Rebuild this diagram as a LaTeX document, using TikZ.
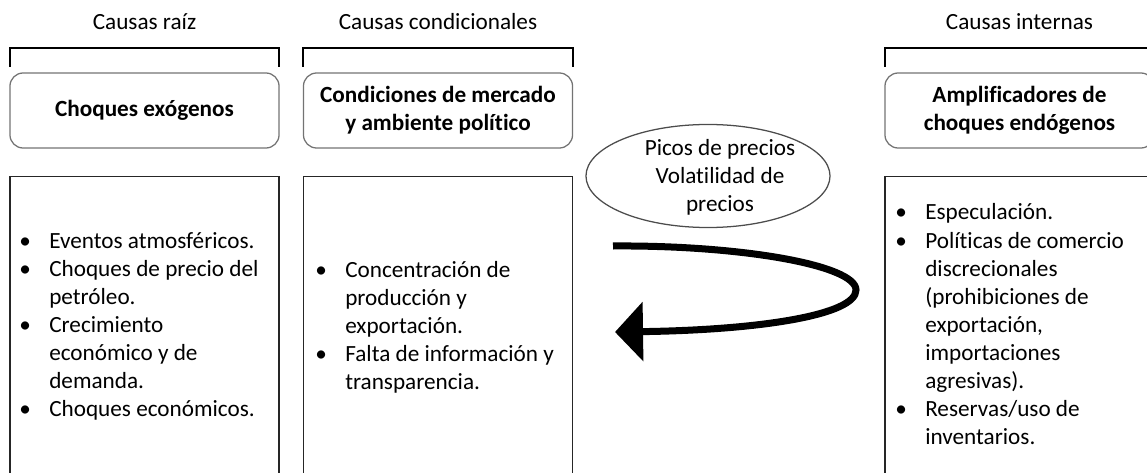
\documentclass[tikz,border=0pt]{standalone}
\usepackage{fontspec}
\setmainfont{Carlito}[Ligatures=NoCommon]
\usetikzlibrary{arrows.meta,shapes.geometric}

\tikzset{
	head/.style={anchor=base, inner sep=0pt, font=\fontsize{16.5}{20}\selectfont},
	bracket/.style={line width=2pt},
	titlebox/.style={draw=black!55, line width=0.9pt, rounded corners=0.33cm, minimum width=6.725cm, minimum height=1.875cm, align=center, font=\fontsize{16.5}{20}\selectfont\bfseries},
	listbox/.style={draw=black!85, line width=0.9pt, minimum width=6.725cm, minimum height=9cm, anchor=north},
	items/.style={anchor=base west, inner sep=0pt, font=\fontsize{16.5}{20}\selectfont},
	loop arrow/.style={line width=0.175cm, -{Triangle[length=0.7cm,width=1.45cm]}},
}
\newcommand{\bul}{\textbullet}

\begin{document}
\begin{tikzpicture}[x=0.025cm, y=-0.025cm]
		%%%%% START %%%%%
		\useasboundingbox (0,0) rectangle (1147,473);
		\clip (0,0) rectangle (1147,473);
		
		% headings and brackets
		\node[head] (hroot) at (144.5,30) {Causas raíz};
		\node[head] (hcond) at (438,30) {Causas condicionales};
		\node[head] (hint) at (1019.5,30) {Causas internas};
		
		\draw[bracket] (10,67) -- (10,48) -- (279,48) -- (279,67);
		\draw[bracket] (303,67) -- (303,48) -- (573,48) -- (573,67);
		\draw[bracket] (885,67) -- (885,48) -- (1154,48) -- (1154,67);
		
		% titles
		\node[titlebox] (troot) at (144.5,110.5) {Choques exógenos};
		\node[titlebox] (tcond) at (438,110.5) {Condiciones de mercado\\y ambiente político};
		\node[titlebox] (tint) at (1019.5,110.5) {Amplificadores de\\choques endógenos};
		
		% lists
		\node[listbox] (lroot) at (144.5,176) {};
		\node[listbox] (lcond) at (438,176) {};
		\node[listbox] (lint) at (1019.5,176) {};
		
		\node[items] (iroot) at (19,248) {\begin{tabular}[t]{@{}p{0.75cm}@{}l@{}}
			\bul & Eventos atmosféricos.\\
			\bul & Choques de precio del\\
			     & petróleo.\\
			\bul & Crecimiento\\
			     & económico y de\\
			     & demanda.\\
			\bul & Choques económicos.
		\end{tabular}};
		
		\node[items] (icond) at (315,277) {\begin{tabular}[t]{@{}p{0.75cm}@{}l@{}}
			\bul & Concentración de\\
			     & producción y\\
			     & exportación.\\
			\bul & Falta de información y\\
			     & transparencia.
		\end{tabular}};
		
		\node[items] (iint) at (895,220) {\begin{tabular}[t]{@{}p{0.75cm}@{}l@{}}
			\bul & Especulación.\\
			\bul & Políticas de comercio\\
			     & discrecionales\\
			     & (prohibiciones de\\
			     & exportación,\\
			     & importaciones\\
			     & agresivas).\\
			\bul & Reservas/uso de\\
			     & inventarios.
		\end{tabular}};
		
		% price peaks
		\node[ellipse, draw=black!70, line width=0.9pt, inner sep=0pt, minimum width=6.1cm, minimum height=2.575cm] (pico) at (708,176) {};
		\node[align=center, inner sep=0pt, font=\fontsize{16.5}{20}\selectfont] (picotxt) at (720,177) {Picos de precios\\Volatilidad de\\precios};
		
		\coordinate (arrstart) at (613,246);
		\coordinate (arrtip) at (615,332);
		\draw[loop arrow] (arrstart) .. controls (740,245) and (856,265) .. (856,290) .. controls (856,315) and (760,330) .. (arrtip);
		
		%%%%% END %%%%%
	\end{tikzpicture}
\end{document}
